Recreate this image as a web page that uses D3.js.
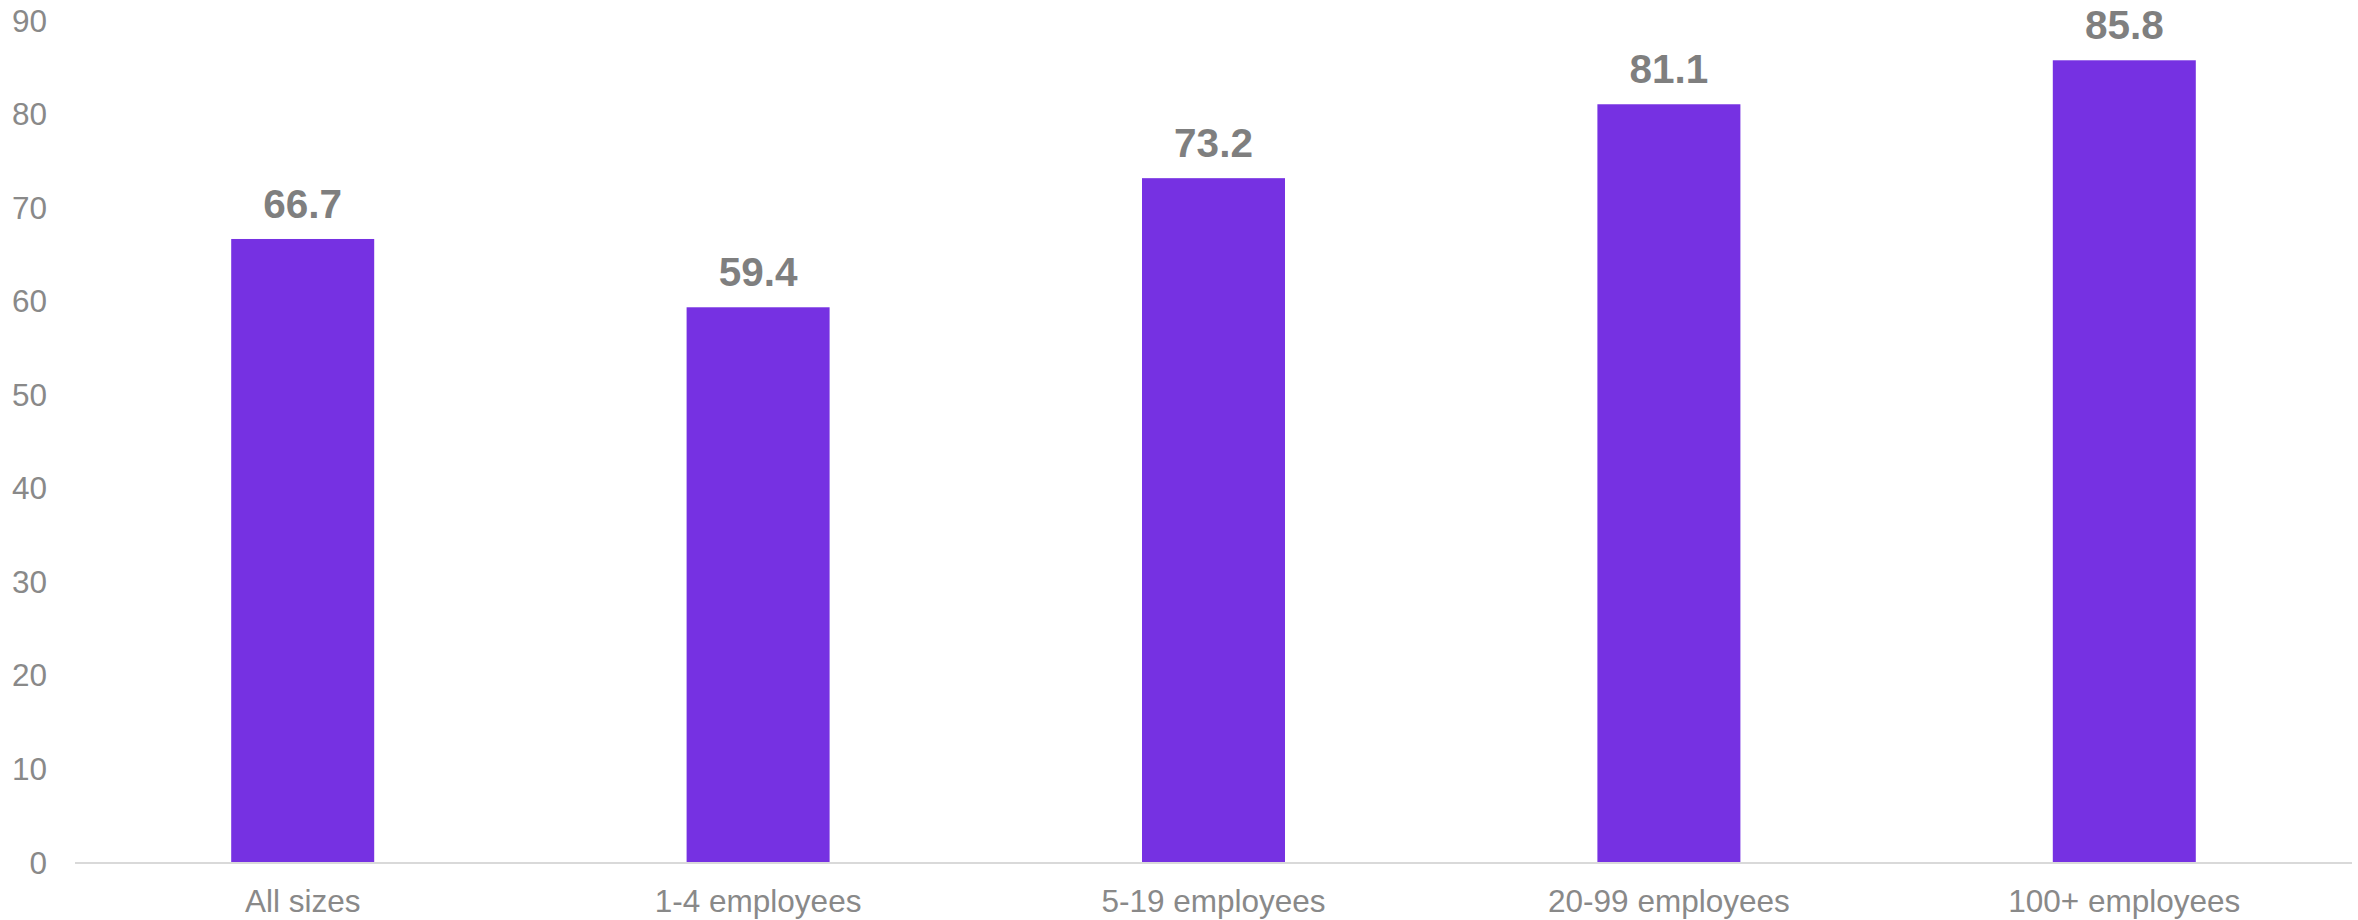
<!DOCTYPE html>
<html>
<head>
<meta charset="utf-8">
<script src="https://cdn.jsdelivr.net/npm/d3@7"></script>
<style>
  html, body { margin: 0; padding: 0; background: #ffffff; }
  svg { display: block; }
  text { font-family: "Liberation Sans", Arial, sans-serif; }
</style>
</head>
<body>
<svg id="chart" width="2358" height="920"></svg>
<script>
// Share of businesses by size band
const categories = ["All sizes", "1-4 employees", "5-19 employees", "20-99 employees", "100+ employees"];
const values = [66.7, 59.4, 73.2, 81.1, 85.8];
const yTicks = [0, 10, 20, 30, 40, 50, 60, 70, 80, 90];

const plotLeft = 75, plotRight = 2352, plotBottom = 863, plotTop = 21;

const svg = d3.select("#chart");

const x = d3.scaleBand()
  .domain(categories)
  .range([plotLeft, plotRight])
  .paddingInner(0.686)
  .paddingOuter(0.343);

const y = d3.scaleLinear()
  .domain([0, 90])
  .range([plotBottom, plotTop]);

// Y axis labels (no axis line)
const yAxis = d3.axisLeft(y).tickValues(yTicks).tickSize(0).tickPadding(0);
const gy = svg.append("g").attr("transform", "translate(47,0)").call(yAxis);
gy.select(".domain").remove();
gy.selectAll("text")
  .attr("fill", "#898989")
  .style("font-size", "31.5px")
  .style("font-family", "'Liberation Sans', Arial, sans-serif");

// Bars
svg.append("g").selectAll("rect")
  .data(values)
  .join("rect")
  .attr("x", (d, i) => x(categories[i]))
  .attr("width", x.bandwidth())
  .attr("y", d => y(d))
  .attr("height", d => y(0) - y(d))
  .attr("fill", "#7631E2");

// Baseline and category labels
const xAxis = d3.axisBottom(x).tickSize(0).tickPadding(0);
const gx = svg.append("g").attr("transform", `translate(0,${plotBottom})`).call(xAxis);
gx.select(".domain")
  .attr("stroke", "#d9d9d9")
  .attr("stroke-width", 2)
  .attr("d", `M${plotLeft},0H${plotRight}`);
gx.selectAll("text")
  .attr("fill", "#898989")
  .attr("dy", null)
  .attr("y", 49)
  .style("font-size", "31.5px")
  .style("font-family", "'Liberation Sans', Arial, sans-serif");

// Value labels
svg.append("g").selectAll("text")
  .data(values)
  .join("text")
  .attr("x", (d, i) => x(categories[i]) + x.bandwidth() / 2)
  .attr("y", d => y(d) - 21)
  .attr("text-anchor", "middle")
  .attr("fill", "#7f7f7f")
  .style("font-size", "40.5px")
  .style("font-weight", "bold")
  .text(d => d.toFixed(1));
</script>
</body>
</html>
